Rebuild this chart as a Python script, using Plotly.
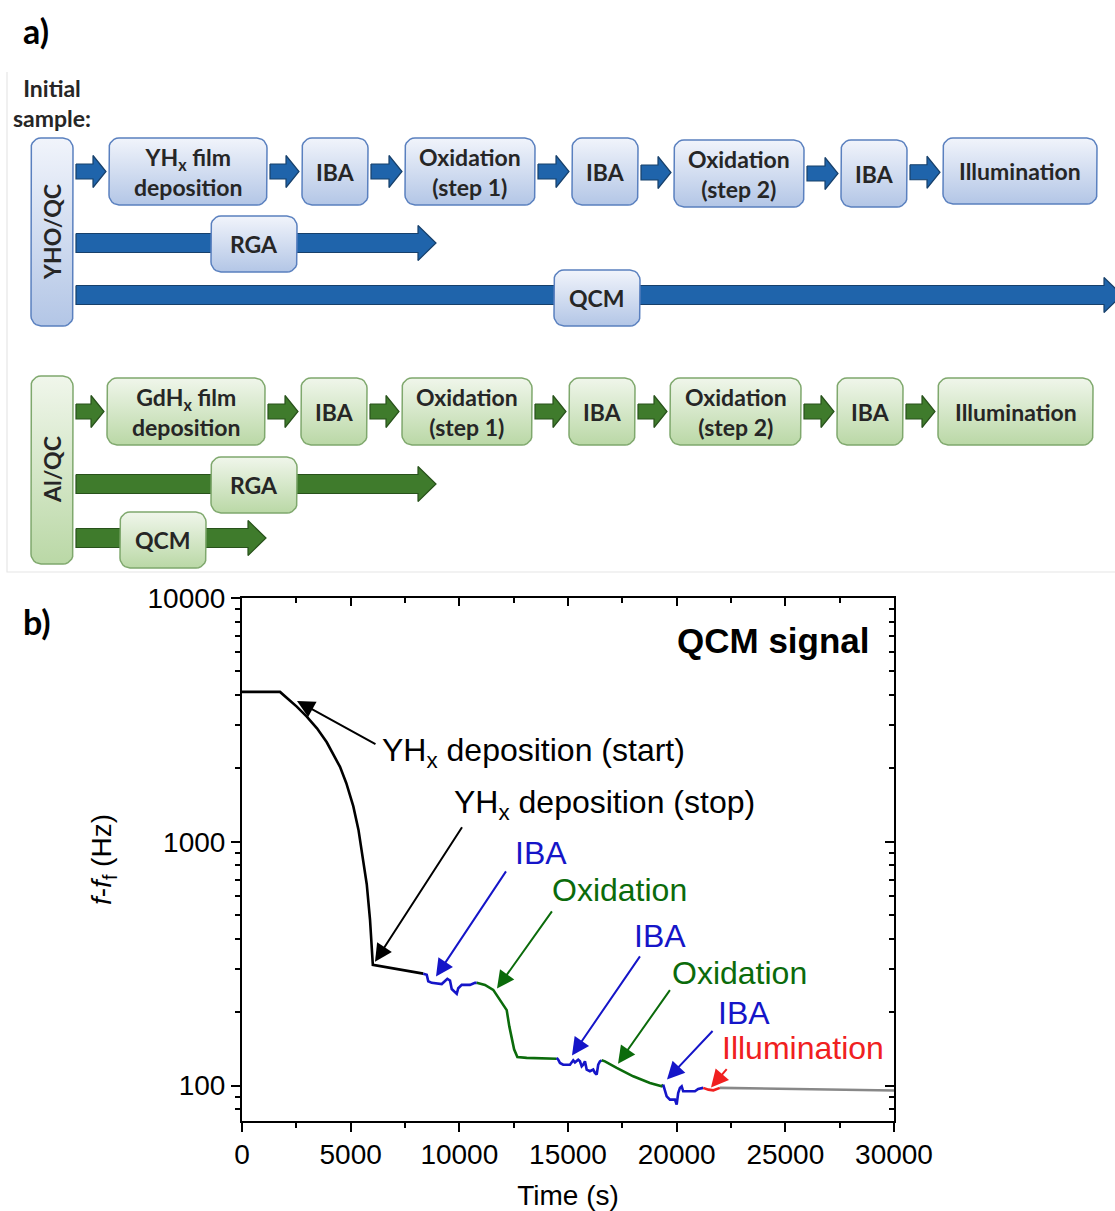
import numpy as np
import plotly.graph_objects as go

W, H = 1115, 1211

# ---------------- panel b data (time in s, f - f_f in Hz) ----------------
t_dep = [0, 1750, 2200, 2520, 2980, 3450, 3900, 4510, 4800, 5120, 5360, 5580, 5740, 5890, 6020, 8340]
f_dep = [4120, 4120, 3800, 3585, 3263, 2920, 2560, 2030, 1740, 1400, 1119, 850, 670, 480, 313, 288]

t_iba1 = [8340, 8500, 8570, 8730, 9190, 9340, 9450, 9570, 9650, 9880, 9950, 10110, 10490, 10720, 10800]
f_iba1 = [288, 285, 268, 264, 261, 268, 274, 270, 249, 238, 251, 259, 259, 264, 264]

t_ox1 = [10800, 11180, 11560, 12180, 12300, 12520, 12670, 13100, 14480]
f_ox1 = [264, 259, 247, 204, 175, 141, 131, 130, 129]

t_iba2 = [14480, 14550, 14630, 14780, 15090, 15170, 15240, 15320, 15400, 15470, 15550,
          15630, 15700, 15780, 15860, 16010, 16160, 16240, 16320, 16390, 16470, 16550]
f_iba2 = [129.9, 127.8, 123.9, 121.9, 121.9, 124.6, 127, 124.6, 125.8, 127.8, 125.8,
          120, 121.9, 125.8, 116.4, 114.6, 116.4, 112.8, 111, 121.9, 125.8, 127]

t_ox2 = [16550, 16700, 17240, 18000, 18770, 19310, 19380]
f_ox2 = [127, 125.8, 118.2, 109.2, 102.6, 99.4, 100.9]

t_iba3 = [19380, 19460, 19540, 19690, 19920, 20000, 20070, 20150, 20230, 20300, 20460, 20840, 20990, 21150, 21220]
f_iba3 = [100.9, 96.3, 90.4, 87.6, 87.6, 83.6, 93.3, 97.9, 99.4, 94.8, 94.8, 94.8, 96.9, 97.9, 97.9]

t_ill = [21220, 21460, 21690, 21840, 21990]
f_ill = [97.9, 96.3, 95.7, 96.9, 97.9]

t_post = [21990, 25670, 30000]
f_post = [97.9, 96.8, 95.5]

x_ticks = [0, 5000, 10000, 15000, 20000, 25000, 30000]
x_minor = [2500, 7500, 12500, 17500, 22500, 27500]
y_ticks = [100, 1000, 10000]
y_minor = [80, 90, 200, 300, 400, 500, 600, 700, 800, 900,
           2000, 3000, 4000, 5000, 6000, 7000, 8000, 9000]

BLACK, BLUE, GREEN, RED, GRAY = '#000000', '#1515c8', '#0b6b0b', '#f02020', '#888888'

segments = [(t_dep, f_dep, BLACK), (t_iba1, f_iba1, BLUE), (t_ox1, f_ox1, GREEN),
            (t_iba2, f_iba2, BLUE), (t_ox2, f_ox2, GREEN), (t_iba3, f_iba3, BLUE),
            (t_ill, f_ill, RED), (t_post, f_post, GRAY)]

# annotation arrows: (tip t, tip f, tail t, tail f, colour)
arrows = [(2531, 3784, 6211, 2497, BLACK),
          (6119, 322, 10168, 1163, BLACK),
          (8926, 280, 12193, 767, BLUE),
          (11733, 250, 14309, 526, GREEN),
          (15183, 133, 18358, 344, BLUE),
          (17300, 123, 19738, 250, GREEN),
          (19554, 106, 21717, 170, BLUE),
          (21579, 98.2, 22361, 118.6, RED)]
# annotation labels: (text, left t, f, colour)
labels = [("YH<sub>x</sub> deposition (start)", 6349, 2317, BLACK),
          ("YH<sub>x</sub> deposition (stop)", 9662, 1419, BLACK),
          ("IBA", 12469, 902, BLUE),
          ("Oxidation", 14171, 635, GREEN),
          ("IBA", 17944, 412, BLUE),
          ("Oxidation", 19692, 290, GREEN),
          ("IBA", 21809, 199, BLUE),
          ("Illumination", 21993, 143, RED)]

# ---------------- panel a layout (pixel units) ----------------
blue_row = [("YH<sub>x</sub> film<br>deposition", 109, 267, 138, 205),
            ("IBA", 302, 368, 138, 205),
            ("Oxidation<br>(step 1)", 405, 535, 138, 205),
            ("IBA", 572, 638, 138, 205),
            ("Oxidation<br>(step 2)", 674, 804, 140, 207),
            ("IBA", 841, 907, 140, 207),
            ("Illumination", 943, 1097, 138, 204)]
green_row = [("GdH<sub>x</sub> film<br>deposition", 107, 265, 378, 445),
             ("IBA", 301, 367, 378, 445),
             ("Oxidation<br>(step 1)", 402, 532, 378, 445),
             ("IBA", 569, 635, 378, 445),
             ("Oxidation<br>(step 2)", 670, 801, 378, 445),
             ("IBA", 837, 903, 378, 445),
             ("Illumination", 938, 1093, 378, 445)]
blue_side = ("YHO/QC", 31, 73, 138, 326)
green_side = ("Al/QC", 31, 73, 376, 564)
blue_long = [("RGA", 76, 436, 243, 211, 297, 216, 272),
             ("QCM", 76, 1122, 295, 554, 640, 270, 326)]
green_long = [("RGA", 76, 436, 484, 211, 297, 457, 513),
              ("QCM", 76, 266, 538, 120, 206, 512, 568)]

BLUE_STYLE = dict(arrow='#1f64ab', arrow_edge='#17406b', top='#f1f4fb', bot='#b3c6e6', edge='#5a80bf')
GREEN_STYLE = dict(arrow='#3f7b2c', arrow_edge='#28521b', top='#f0f6eb', bot='#bad8a6', edge='#7fa86d')


def rrect(x0, x1, y0, y1, r=10, n=7):
    xs, ys = [], []
    corners = [(x1 - r, y0 + r, -90, 0), (x1 - r, y1 - r, 0, 90),
               (x0 + r, y1 - r, 90, 180), (x0 + r, y0 + r, 180, 270)]
    for cx, cy, a0, a1 in corners:
        for a in np.linspace(np.radians(a0), np.radians(a1), n):
            xs.append(cx + r * np.cos(a))
            ys.append(cy + r * np.sin(a))
    xs.append(xs[0]); ys.append(ys[0])
    return xs, ys


def block_arrow(x0, x1, yc, bh, hh, hl):
    xs = [x0, x1 - hl, x1 - hl, x1, x1 - hl, x1 - hl, x0, x0]
    ys = [yc - bh, yc - bh, yc - hh, yc, yc + hh, yc + bh, yc + bh, yc - bh]
    return xs, ys


fig = go.Figure()

for t, f, c in segments:
    fig.add_trace(go.Scatter(x=t, y=f, mode='lines', line=dict(color=c, width=2.6),
                             xaxis='x', yaxis='y', hoverinfo='skip', showlegend=False))
# anchor trace for mirrored axes
fig.add_trace(go.Scatter(x=[15000], y=[1000], mode='markers', marker=dict(opacity=0),
                         xaxis='x2', yaxis='y2', hoverinfo='skip', showlegend=False))

annotations = []
DIAG_FONT = 'Lato, Calibri, Open Sans, sans-serif'
TXT = '#262626'
BOX_FS = 23


def add_box(x0, x1, y0, y1, st, text, angle=0):
    xs, ys = rrect(x0, x1, y0, y1, r=10)
    fig.add_trace(go.Scatter(x=xs, y=ys, mode='lines', fill='toself',
                             line=dict(color=st['edge'], width=1.5),
                             fillgradient=dict(type='vertical',
                                               colorscale=[[0, st['top']], [1, st['bot']]],
                                               start=y0, stop=y1),
                             xaxis='x3', yaxis='y3', hoverinfo='skip', showlegend=False))
    annotations.append(dict(x=(x0 + x1) / 2, y=(y0 + y1) / 2, xref='x3', yref='y3',
                            text='<b>' + text + '</b>', showarrow=False, textangle=angle,
                            font=dict(family=DIAG_FONT, size=BOX_FS, color=TXT)))


def add_arrow(x0, x1, yc, st, bh, hh, hl):
    xs, ys = block_arrow(x0, x1, yc, bh, hh, hl)
    fig.add_trace(go.Scatter(x=xs, y=ys, mode='lines', fill='toself', fillcolor=st['arrow'],
                             line=dict(color=st['arrow_edge'], width=1.2),
                             xaxis='x3', yaxis='y3', hoverinfo='skip', showlegend=False))


for row, side, longs, st in [(blue_row, blue_side, blue_long, BLUE_STYLE),
                             (green_row, green_side, green_long, GREEN_STYLE)]:
    for name, ax0, ax1, yc, bx0, bx1, by0, by1 in longs:
        add_arrow(ax0, ax1, yc, st, 9.5, 17.5, 18)
    for name, ax0, ax1, yc, bx0, bx1, by0, by1 in longs:
        add_box(bx0, bx1, by0, by1, st, name)
    add_box(side[1], side[2], side[3], side[4], st, side[0], angle=-90)
    prev_x1 = 73
    prev_yc = (row[0][3] + row[0][4]) / 2
    for text, x0, x1, y0, y1 in row:
        yc = (y0 + y1) / 2
        add_arrow(prev_x1 + 3, x0 - 3, (yc + prev_yc) / 2, st, 7.5, 16, 13)
        add_box(x0, x1, y0, y1, st, text)
        prev_x1, prev_yc = x1, yc

# faint frame lines of panel a
fig.add_trace(go.Scatter(x=[7, 7, 1115], y=[72, 572, 572], mode='lines',
                         line=dict(color='#e6e6e6', width=1.2),
                         xaxis='x3', yaxis='y3', hoverinfo='skip', showlegend=False))

annotations.append(dict(x=52, y=103, xref='x3', yref='y3', showarrow=False,
                        text='<b>Initial<br>sample:</b>',
                        font=dict(family=DIAG_FONT, size=23, color=TXT)))
annotations.append(dict(x=21, y=30, xref='x3', yref='y3', showarrow=False, xanchor='left',
                        text='<b>a)</b>', font=dict(family=DIAG_FONT, size=34, color='black')))
annotations.append(dict(x=21, y=621, xref='x3', yref='y3', showarrow=False, xanchor='left',
                        text='<b>b)</b>', font=dict(family=DIAG_FONT, size=34, color='black')))

PF = 'Liberation Sans, Arial, sans-serif'
for tx, tf, sx, sf, c in arrows:
    annotations.append(dict(x=tx, y=np.log10(tf), ax=sx, ay=np.log10(sf), xref='x', yref='y',
                            axref='x', ayref='y', text='', showarrow=True, arrowhead=2,
                            arrowsize=1.75, arrowwidth=2, arrowcolor=c, standoff=0))
for text, lt, lf, c in labels:
    annotations.append(dict(x=lt, y=np.log10(lf), xref='x', yref='y', text=text,
                            showarrow=False, xanchor='left', yanchor='middle',
                            font=dict(family=PF, size=32, color=c)))
annotations.append(dict(x=28990, y=3.827, xref='x', yref='y', text='<b>QCM signal</b>',
                        showarrow=False, xanchor='right', yanchor='middle',
                        font=dict(family=PF, size=35, color='black')))

y_range = [1.855, 4.0]
axis_common = dict(showgrid=False, zeroline=False, showline=True, linecolor='black',
                   linewidth=2, tickcolor='black', tickwidth=2, automargin=False)

fig.update_layout(
    width=W, height=H, margin=dict(l=0, r=0, t=0, b=0, pad=0), autosize=False,
    paper_bgcolor='white', plot_bgcolor='rgba(0,0,0,0)', showlegend=False,
    font=dict(family=PF, color='black'),
    xaxis=dict(domain=[242 / W, 894 / W], range=[0, 30000], anchor='y',
               tickmode='array', tickvals=x_ticks, ticktext=[str(v) for v in x_ticks],
               ticks='outside', ticklen=9, ticklabelstandoff=-2,
               tickfont=dict(family=PF, size=28),
               minor=dict(tickmode='array', tickvals=x_minor, ticks='outside', ticklen=5,
                          tickwidth=1.5, tickcolor='black', showgrid=False),
               title=dict(text='Time (s)', font=dict(family=PF, size=28), standoff=18),
               **axis_common),
    yaxis=dict(domain=[(H - 1121) / H, (H - 598) / H], type='log', range=y_range, anchor='x',
               tickmode='array', tickvals=y_ticks, ticktext=[str(v) for v in y_ticks],
               ticks='outside', ticklen=9, tickfont=dict(family=PF, size=28),
               minor=dict(tickmode='array', tickvals=y_minor, ticks='outside', ticklen=5,
                          tickwidth=1.5, tickcolor='black', showgrid=False),
               title=dict(text='<i>f</i>-<i>f</i><sub>f</sub> (Hz)', font=dict(family=PF, size=28),
                          standoff=28),
               **axis_common),
    xaxis2=dict(overlaying='x', side='top', anchor='y', range=[0, 30000],
                tickmode='array', tickvals=x_ticks, ticks='inside', ticklen=8,
                showticklabels=False,
                minor=dict(tickmode='array', tickvals=x_minor, ticks='inside', ticklen=5,
                           tickwidth=1.5, tickcolor='black', showgrid=False),
                **axis_common),
    yaxis2=dict(overlaying='y', side='right', anchor='x', type='log', range=y_range,
                tickmode='array', tickvals=y_ticks, ticks='inside', ticklen=9,
                showticklabels=False,
                minor=dict(tickmode='array', tickvals=y_minor, ticks='inside', ticklen=5,
                           tickwidth=1.5, tickcolor='black', showgrid=False),
                **axis_common),
    xaxis3=dict(domain=[0, 1], range=[0, W], anchor='y3', visible=False, automargin=False),
    yaxis3=dict(domain=[0, 1], range=[H, 0], anchor='x3', visible=False, automargin=False),
    annotations=annotations,
)

fig.write_html("out.html", config={'displayModeBar': False},
               post_script="document.body.style.margin='0px';")
